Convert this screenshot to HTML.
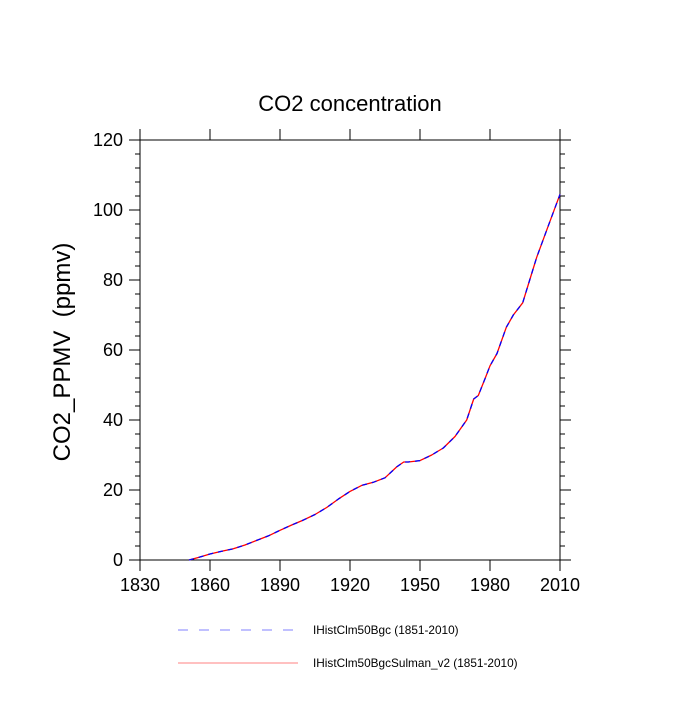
<!DOCTYPE html>
<html><head><meta charset="utf-8"><style>
body{margin:0;background:#fff;}
text{font-family:"Liberation Sans",Arial,sans-serif;fill:#000;white-space:pre;}
</style></head><body>
<svg id="chart" width="700" height="700">
<text x="350" y="111" font-size="22" text-anchor="middle">CO2 concentration</text>
<text transform="translate(70,352) rotate(-90)" font-size="24" text-anchor="middle" xml:space="preserve">CO2_PPMV  (ppmv)</text>
<g id="axes"></g>
<g id="series"></g>
<g>
<line x1="178" y1="630" x2="295" y2="630" stroke="#8080ff" stroke-width="1" stroke-dasharray="10,11"/>
<text x="313" y="634" font-size="11.8">IHistClm50Bgc (1851-2010)</text>
<line x1="178" y1="663" x2="298" y2="663" stroke="#ff8080" stroke-width="1"/>
<text x="313" y="667" font-size="11.8">IHistClm50BgcSulman_v2 (1851-2010)</text>
</g>
</svg>
<script>
const years=[1851,1855,1860,1865,1870,1875,1880,1885,1890,1895,1900,1905,1910,1915,1920,1925,1930,1935,1940,1943,1945,1950,1955,1960,1965,1970,1973,1975,1978,1980,1983,1987,1990,1994,1997,2000,2005,2010];
const co2Bgc=[0,0.7,1.7,2.5,3.2,4.3,5.6,6.9,8.5,10,11.4,13,15,17.4,19.6,21.3,22.2,23.5,26.6,28,28,28.4,30,32,35.3,40,46,47,52,55.5,59,66.5,70,73.5,80,86.5,95.5,104.5];
const co2Sulman=co2Bgc.slice();
const xTicks=[1830,1860,1890,1920,1950,1980,2010];
const yTicks=[0,20,40,60,80,100,120];
const L=140,R=560,T=140,B=560;
const xs=v=>L+(v-1830)/180*(R-L);
const ys=v=>B-v/120*(B-T);
const NS="http://www.w3.org/2000/svg";
const ax=document.getElementById('axes');
function mk(tag,attrs,parent){const e=document.createElementNS(NS,tag);for(const k in attrs)e.setAttribute(k,attrs[k]);parent.appendChild(e);return e;}
const frame=mk('rect',{x:L,y:T,width:R-L,height:B-T,fill:'none',stroke:'#000','stroke-width':1},ax);


xTicks.forEach(t=>{
 const x=xs(t);
 mk('line',{x1:x,y1:B,x2:x,y2:B+11,stroke:'#000'},ax);
 mk('line',{x1:x,y1:T,x2:x,y2:T-11,stroke:'#000'},ax);
 const lb=mk('text',{x:x,y:B+31,'font-size':18,'text-anchor':'middle'},ax);
 lb.textContent=t;
 
 
});
for(let v=0;v<=120;v+=4){
 const y=ys(v),maj=v%20===0,len=maj?11:5;
 mk('line',{x1:L,y1:y,x2:L-len,y2:y,stroke:'#000'},ax);
 mk('line',{x1:R,y1:y,x2:R+len,y2:y,stroke:'#000'},ax);
}
yTicks.forEach(t=>{
 const lb=mk('text',{x:L-17,y:ys(t)+6,'font-size':18,'text-anchor':'end'},ax);
 lb.textContent=t;
 
 
});
const sg=document.getElementById('series');
function path(vals){return vals.map((v,i)=>(i?'L':'M')+xs(years[i]).toFixed(1)+','+ys(v).toFixed(1)).join(' ');}
const p1=mk('path',{d:path(co2Sulman),fill:'none',stroke:'#ff0000','stroke-width':1.3,'stroke-linejoin':'round'},sg);


const p2=mk('path',{d:path(co2Bgc),fill:'none',stroke:'#0000ff','stroke-width':1.3,'stroke-dasharray':'5,5','stroke-linejoin':'round'},sg);


</script>
</body></html>
